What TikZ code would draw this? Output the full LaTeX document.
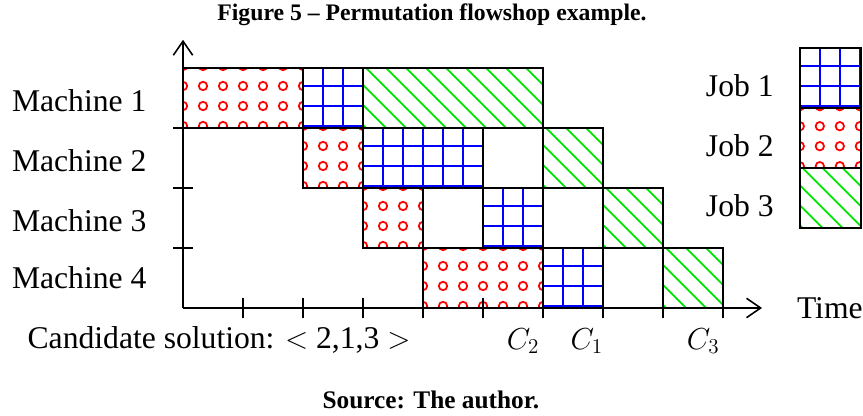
\documentclass[tikz,border=0pt]{standalone}
\usepackage{fontspec}
\setmainfont{Liberation Serif}
\usetikzlibrary{arrows.meta}

\tikzset{
    jobframe/.style={draw=black, line width=0.9pt},
    gridline/.style={blue, line width=1pt},
    dotline/.style={red, line width=1pt},
    hatchline/.style={green!90!black, line width=1pt},
    axisline/.style={line width=0.9pt, -{Straight Barb[length=8pt,width=11pt]}},
    axtick/.style={line width=0.9pt},
    lbl/.style={font=\fontsize{18}{22}\selectfont},
    headline/.style={font=\fontsize{14.4}{17}\selectfont\bfseries}
}

% job boxes: #1 = start, #2 = end, #3 = bottom of the row
\newcommand{\jobone}[3]{%
    \begin{scope}
        \clip (#1,#3) rectangle (#2,#3+1);
        \foreach \i in {1,...,9} \draw[gridline] (#1+\i/3,#3) -- ++(0,1);
        \foreach \j in {0,...,3} \draw[gridline] (#1,#3+\j/3+0.033) -- (#2,#3+\j/3+0.033);
    \end{scope}
    \draw[jobframe] (#1,#3) rectangle (#2,#3+1);
}
\newcommand{\jobtwo}[3]{%
    \begin{scope}
        \clip (#1,#3) rectangle (#2,#3+1);
        \foreach \i in {0,...,9}
            \foreach \j in {0,...,3}
                \draw[dotline] (#1+\i/3,#3+\j/3+0.033) circle (0.07);
    \end{scope}
    \draw[jobframe] (#1,#3) rectangle (#2,#3+1);
}
\newcommand{\jobthree}[3]{%
    \begin{scope}
        \clip (#1,#3) rectangle (#2,#3+1);
        \foreach \k in {-3,...,9} \draw[hatchline] (#1+\k/3+0.05,#3+1) -- ++(1,-1);
    \end{scope}
    \draw[jobframe] (#1,#3) rectangle (#2,#3+1);
}

\begin{document}
\begin{tikzpicture}[x=1.2cm, y=1.2cm]
    \useasboundingbox (-3.05,-1.8) rectangle (11.333,5.133);

    % schedule of the sequence 2,1,3
    \foreach \a/\b/\r in {0/2/3, 2/3/2, 3/4/1, 4/6/0} \jobtwo{\a}{\b}{\r};
    \foreach \a/\b/\r in {2/3/3, 3/5/2, 5/6/1, 6/7/0} \jobone{\a}{\b}{\r};
    \foreach \a/\b/\r in {3/6/3, 6/7/2, 7/8/1, 8/9/0} \jobthree{\a}{\b}{\r};
    \foreach \a/\b/\r in {0/6/3, 2/7/2, 3/8/1, 4/9/0}
        \draw[jobframe] (\a,\r) rectangle (\b,\r+1);

    % axes
    \coordinate (O) at (0,0);
    \coordinate (ytop) at (0,4.47);
    \coordinate (xend) at (9.65,0);
    \draw[axisline] (O) -- (ytop);
    \draw[axisline] (O) -- (xend);
    \foreach \y in {1,2,3} \draw[axtick] (-0.17,\y) -- (0.17,\y);
    \foreach \x in {1,...,9} \draw[axtick] (\x,-0.17) -- (\x,0.17);

    \node[lbl] (m1) at (-1.73,3.45) {Machine 1};
    \node[lbl] (m2) at (-1.73,2.45) {Machine 2};
    \node[lbl] (m3) at (-1.73,1.45) {Machine 3};
    \node[lbl] (m4) at (-1.73,0.5) {Machine 4};
    \node[lbl] (time) at (10.78,0) {Time};
    \node[lbl] (cand) at (0.6,-0.53) {Candidate solution: $<$ 2,1,3 $>$};
    \node[lbl] (c2) at (5.67,-0.55) {$C_2$};
    \node[lbl] (c1) at (6.73,-0.55) {$C_1$};
    \node[lbl] (c3) at (8.67,-0.55) {$C_3$};

    % legend
    \jobone{10.28}{11.3}{3.33}
    \jobtwo{10.28}{11.3}{2.33}
    \jobthree{10.28}{11.3}{1.33}
    \node[lbl] (j1) at (9.28,3.7) {Job 1};
    \node[lbl] (j2) at (9.28,2.7) {Job 2};
    \node[lbl] (j3) at (9.28,1.7) {Job 3};

    \node[headline, font=\fontsize{13.5}{17}\selectfont\bfseries] (title) at (4.15,4.88) {Figure 5 -- Permutation flowshop example.};
    \node[headline] (src) at (4.13,-1.53) {Source: The author.};
\end{tikzpicture}
\end{document}
